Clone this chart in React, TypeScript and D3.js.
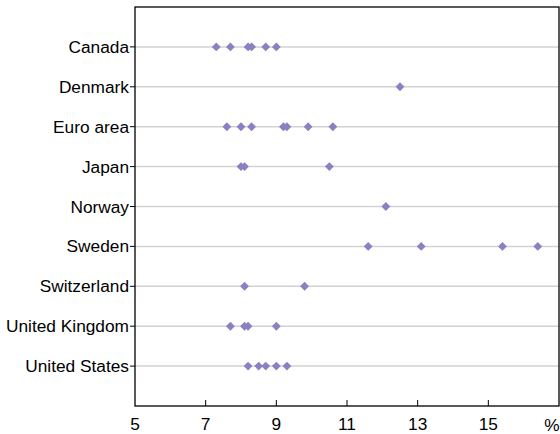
import React from "react";
import * as d3 from "d3";

const categories = [
  "Canada",
  "Denmark",
  "Euro area",
  "Japan",
  "Norway",
  "Sweden",
  "Switzerland",
  "United Kingdom",
  "United States",
];

const canada = [7.3, 7.7, 8.2, 8.3, 8.7, 9.0];
const denmark = [12.5];
const euroArea = [7.6, 8.0, 8.3, 9.2, 9.3, 9.9, 10.6];
const japan = [8.0, 8.1, 10.5];
const norway = [12.1];
const sweden = [11.6, 13.1, 15.4, 16.4];
const switzerland = [8.1, 9.8];
const unitedKingdom = [7.7, 8.1, 8.2, 9.0];
const unitedStates = [8.2, 8.5, 8.7, 9.0, 9.3];

const seriesValues = [
  canada,
  denmark,
  euroArea,
  japan,
  norway,
  sweden,
  switzerland,
  unitedKingdom,
  unitedStates,
];

const xTicks = [5, 7, 9, 11, 13, 15];
const xUnit = "%";

export default function App() {
  const W = 560;
  const H = 434;
  const left = 135;
  const right = 559;
  const top = 7;
  const bottom = 406;
  const x = d3.scaleLinear().domain([5, 17]).range([left, right]);
  const y = d3.scalePoint<string>().domain(categories).range([top, bottom]).padding(1);
  const diamond = d3.symbol().type(d3.symbolDiamond2).size(50)();
  const font = "'Liberation Sans', Arial, sans-serif";
  const fs = 17.3;
  const color = "#8a80c2";

  return (
    <svg width={W} height={H} style={{ position: "absolute", left: 0, top: 0 }}>
      <rect x={0} y={0} width={W} height={H} fill="#fff" />
      {categories.map((c) => (
        <line
          key={"g" + c}
          x1={left}
          x2={right}
          y1={y(c)}
          y2={y(c)}
          stroke="#d2d2d2"
          strokeWidth={1.5}
        />
      ))}
      {categories.map((c) => (
        <line key={"t" + c} x1={left - 5} x2={left} y1={y(c)} y2={y(c)} stroke="#000" strokeWidth={1} />
      ))}
      {categories.map((c) => (
        <text
          key={"l" + c}
          x={129}
          y={(y(c) as number) + 6}
          textAnchor="end"
          fontFamily={font}
          fontSize={fs}
          fill="#000"
        >
          {c}
        </text>
      ))}
      {xTicks.slice(1).map((t) => (
        <line key={"xt" + t} x1={x(t)} x2={x(t)} y1={bottom} y2={bottom - 6} stroke="#000" strokeWidth={1} />
      ))}
      {xTicks.map((t) => (
        <text
          key={"xl" + t}
          x={x(t)}
          y={430}
          textAnchor="middle"
          fontFamily={font}
          fontSize={fs}
          fill="#000"
        >
          {t}
        </text>
      ))}
      <text x={552} y={431} textAnchor="middle" fontFamily={font} fontSize={fs} fill="#000">
        {xUnit}
      </text>
      <rect
        x={left}
        y={top}
        width={right - left}
        height={bottom - top}
        fill="none"
        stroke="#000"
        strokeWidth={1.3}
      />
      {seriesValues.map((vals, i) =>
        vals.map((v, j) => (
          <path
            key={"p" + i + "-" + j}
            d={diamond as string}
            transform={`translate(${x(v)},${y(categories[i])})`}
            fill={color}
          />
        ))
      )}
    </svg>
  );
}
